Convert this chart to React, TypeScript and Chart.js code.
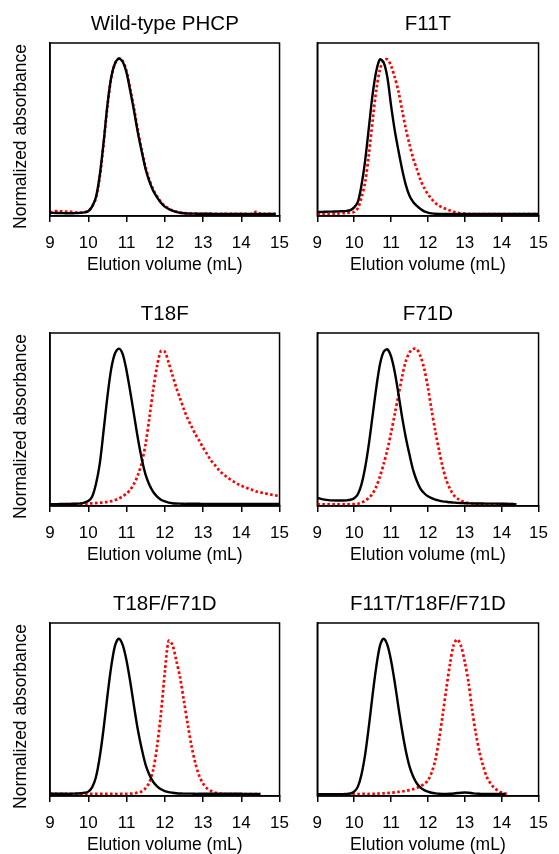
import React, { useEffect, useRef } from 'react';
import { Chart, registerables } from 'chart.js';

Chart.register(...registerables);

const FONT = '"Liberation Sans", Arial, Helvetica, sans-serif';

// Elution volume grid (mL)
const VOLUME = [
  9.0, 9.1, 9.2, 9.3, 9.4, 9.5, 9.6, 9.7, 9.8, 9.9,
  10.0, 10.1, 10.2, 10.3, 10.4, 10.5, 10.6, 10.7, 10.8, 10.9,
  11.0, 11.1, 11.2, 11.3, 11.4, 11.5, 11.6, 11.7, 11.8, 11.9,
  12.0, 12.1, 12.2, 12.3, 12.4, 12.5, 12.6, 12.7, 12.8, 12.9,
  13.0, 13.1, 13.2, 13.3, 13.4, 13.5, 13.6, 13.7, 13.8, 13.9,
  14.0, 14.1, 14.2, 14.3, 14.4, 14.5, 14.6, 14.7, 14.8, 14.9,
  15.0,
];

const X_TICKS = [9, 10, 11, 12, 13, 14, 15];

const PANEL_TITLES = ['Wild-type PHCP', 'F11T', 'T18F', 'F71D', 'T18F/F71D', 'F11T/T18F/F71D'];

// Wild-type PHCP
const WT_BLACK = [
  0.010, 0.010, 0.009, 0.009, 0.008, 0.008, 0.008, 0.009, 0.010, 0.013,
  0.020, 0.050, 0.110, 0.250, 0.460, 0.700, 0.880, 0.970, 1.000, 0.980,
  0.910, 0.790, 0.660, 0.520, 0.400, 0.290, 0.210, 0.150, 0.110, 0.075,
  0.050, 0.035, 0.024, 0.016, 0.011, 0.008, 0.006, 0.005, 0.005, 0.004,
  0.004, 0.004, 0.004, 0.003, 0.003, 0.003, 0.003, 0.003, 0.003, 0.003,
  0.003, 0.003, 0.003, 0.003, 0.003, 0.003, 0.003, 0.003, 0.003, 0.003,
  null,
];
const WT_RED = [
  0.012, 0.020, 0.021, 0.020, 0.019, 0.018, 0.015, 0.012, 0.012, 0.015,
  0.022, 0.050, 0.105, 0.240, 0.450, 0.690, 0.875, 0.970, 1.000, 0.985,
  0.920, 0.800, 0.675, 0.535, 0.410, 0.300, 0.220, 0.160, 0.115, 0.080,
  0.055, 0.038, 0.026, 0.018, 0.012, 0.009, 0.007, 0.006, 0.005, 0.005,
  0.004, 0.004, 0.004, 0.004, 0.003, 0.003, 0.003, 0.003, 0.003, 0.003,
  0.003, 0.003, 0.003, 0.004, 0.018, 0.004, 0.003, 0.003, 0.003, 0.003,
  null,
];

// F11T
const F11T_BLACK = [
  0.015, 0.016, 0.017, 0.018, 0.018, 0.019, 0.020, 0.021, 0.023, 0.028,
  0.045, 0.080, 0.190, 0.350, 0.560, 0.770, 0.920, 0.995, 0.975, 0.880,
  0.700, 0.540, 0.410, 0.290, 0.190, 0.120, 0.080, 0.055, 0.035, 0.020,
  0.012, 0.007, 0.004, 0.003, 0.003, 0.003, 0.003, 0.003, 0.003, 0.003,
  0.003, 0.003, 0.003, 0.003, 0.003, 0.003, 0.003, 0.003, 0.003, 0.003,
  0.003, 0.003, 0.003, 0.003, 0.003, 0.003, 0.003, 0.003, 0.003, 0.003,
  0.003,
];
const F11T_RED = [
  0.000, 0.001, 0.002, 0.003, 0.004, 0.005, 0.006, 0.008, 0.010, 0.013,
  0.016, 0.040, 0.110, 0.210, 0.390, 0.600, 0.800, 0.930, 0.990, 0.995,
  0.955, 0.880, 0.790, 0.670, 0.550, 0.450, 0.360, 0.290, 0.220, 0.170,
  0.130, 0.100, 0.073, 0.056, 0.044, 0.034, 0.025, 0.017, 0.011, 0.007,
  0.005, 0.003, 0.002, 0.002, 0.002, 0.002, 0.002, 0.002, 0.002, 0.002,
  0.002, 0.002, 0.002, 0.002, 0.002, 0.002, 0.002, 0.002, 0.002, 0.002,
  0.002,
];

// T18F
const T18F_BLACK = [
  0.002, 0.002, 0.002, 0.003, 0.003, 0.003, 0.004, 0.005, 0.007, 0.012,
  0.022, 0.050, 0.130, 0.260, 0.470, 0.690, 0.870, 0.970, 1.000, 0.965,
  0.860, 0.720, 0.570, 0.420, 0.290, 0.190, 0.125, 0.080, 0.050, 0.030,
  0.019, 0.012, 0.008, 0.006, 0.005, 0.004, 0.004, 0.004, 0.004, 0.004,
  0.003, 0.003, 0.003, 0.003, 0.003, 0.003, 0.003, 0.003, 0.003, 0.003,
  0.003, 0.003, 0.003, 0.003, 0.003, 0.003, 0.003, 0.003, 0.003, 0.003,
  0.003,
];
const T18F_RED = [
  0.000, 0.000, 0.000, 0.001, 0.001, 0.002, 0.002, 0.003, 0.004, 0.005,
  0.006, 0.007, 0.009, 0.011, 0.013, 0.016, 0.021, 0.028, 0.038, 0.052,
  0.070, 0.095, 0.135, 0.190, 0.270, 0.390, 0.560, 0.740, 0.890, 0.985,
  0.980, 0.910, 0.830, 0.750, 0.680, 0.610, 0.550, 0.500, 0.450, 0.410,
  0.365, 0.325, 0.285, 0.255, 0.225, 0.200, 0.180, 0.163, 0.147, 0.132,
  0.120, 0.110, 0.100, 0.092, 0.083, 0.077, 0.072, 0.067, 0.062, 0.058,
  0.054,
];

// F71D
const F71D_BLACK = [
  0.042, 0.036, 0.031, 0.028, 0.026, 0.025, 0.025, 0.025, 0.026, 0.030,
  0.040, 0.065, 0.130, 0.240, 0.390, 0.570, 0.750, 0.900, 0.980, 0.995,
  0.950, 0.850, 0.710, 0.560, 0.430, 0.320, 0.220, 0.150, 0.100, 0.072,
  0.052, 0.040, 0.031, 0.025, 0.020, 0.017, 0.014, 0.012, 0.010, 0.009,
  0.008, 0.007, 0.007, 0.006, 0.006, 0.006, 0.005, 0.005, 0.005, 0.005,
  0.004, 0.004, 0.003, 0.003, 0.002, null, null, null, null, null,
  null,
];
const F71D_RED = [
  0.000, 0.000, 0.000, 0.000, 0.000, 0.000, 0.000, 0.000, 0.000, 0.001,
  0.002, 0.004, 0.012, 0.024, 0.043, 0.070, 0.115, 0.180, 0.260, 0.350,
  0.460, 0.580, 0.700, 0.820, 0.920, 0.975, 0.998, 0.995, 0.950, 0.870,
  0.750, 0.605, 0.470, 0.350, 0.240, 0.155, 0.100, 0.060, 0.038, 0.024,
  0.014, 0.008, 0.005, 0.003, 0.002, 0.002, 0.002, 0.002, 0.002, 0.002,
  0.002, 0.002, 0.002, 0.002, null, null, null, null, null, null,
  null,
];

// T18F/F71D
const T18F_F71D_BLACK = [
  0.004, 0.004, 0.004, 0.004, 0.004, 0.004, 0.005, 0.006, 0.008, 0.011,
  0.018, 0.045, 0.110, 0.240, 0.420, 0.630, 0.820, 0.955, 1.000, 0.960,
  0.860, 0.720, 0.560, 0.410, 0.290, 0.190, 0.125, 0.080, 0.052, 0.033,
  0.022, 0.015, 0.011, 0.008, 0.006, 0.005, 0.005, 0.005, 0.004, 0.004,
  0.004, 0.004, 0.004, 0.004, 0.004, 0.004, 0.004, 0.004, 0.004, 0.004,
  0.004, 0.003, 0.003, 0.003, 0.003, 0.003, null, null, null, null,
  null,
];
const T18F_F71D_RED = [
  0.005, 0.005, 0.004, 0.004, 0.004, 0.003, 0.003, 0.003, 0.003, 0.003,
  0.003, 0.003, 0.003, 0.003, 0.003, 0.003, 0.003, 0.003, 0.003, 0.004,
  0.004, 0.005, 0.007, 0.012, 0.020, 0.040, 0.080, 0.160, 0.310, 0.520,
  0.780, 0.985, 0.960, 0.860, 0.750, 0.600, 0.450, 0.310, 0.200, 0.120,
  0.070, 0.040, 0.024, 0.013, 0.007, 0.004, 0.002, 0.002, 0.002, 0.002,
  0.002, 0.002, 0.002, 0.002, 0.002, 0.002, null, null, null, null,
  null,
];

// F11T/T18F/F71D
const TRIPLE_BLACK = [
  0.002, 0.002, 0.002, 0.002, 0.002, 0.002, 0.002, 0.002, 0.003, 0.006,
  0.018, 0.050, 0.130, 0.260, 0.440, 0.640, 0.820, 0.955, 1.000, 0.960,
  0.860, 0.720, 0.560, 0.410, 0.280, 0.180, 0.115, 0.070, 0.044, 0.028,
  0.018, 0.011, 0.007, 0.004, 0.003, 0.003, 0.004, 0.006, 0.009, 0.011,
  0.012, 0.011, 0.008, 0.005, 0.004, 0.003, 0.003, 0.003, 0.003, 0.003,
  0.003, 0.003, null, null, null, null, null, null, null, null,
  null,
];
const TRIPLE_RED = [
  0.000, 0.000, 0.000, 0.000, 0.001, 0.001, 0.001, 0.001, 0.002, 0.002,
  0.002, 0.002, 0.003, 0.003, 0.003, 0.004, 0.005, 0.006, 0.007, 0.009,
  0.011, 0.013, 0.016, 0.019, 0.023, 0.028, 0.034, 0.042, 0.052, 0.068,
  0.090, 0.140, 0.220, 0.350, 0.510, 0.680, 0.840, 0.960, 0.995, 0.950,
  0.850, 0.720, 0.540, 0.390, 0.270, 0.180, 0.110, 0.070, 0.042, 0.024,
  0.012, 0.005, 0.002, null, null, null, null, null, null, null,
  null,
];

const BLACK_SERIES = [WT_BLACK, F11T_BLACK, T18F_BLACK, F71D_BLACK, T18F_F71D_BLACK, TRIPLE_BLACK];
const RED_SERIES = [WT_RED, F11T_RED, T18F_RED, F71D_RED, T18F_F71D_RED, TRIPLE_RED];

const boxPlugin = {
  id: 'frameBox',
  afterDraw(chart: any) {
    const { ctx, chartArea } = chart;
    ctx.save();
    ctx.strokeStyle = '#000';
    ctx.lineWidth = 1.5;
    ctx.strokeRect(chartArea.left, chartArea.top, chartArea.right - chartArea.left, chartArea.bottom - chartArea.top);
    ctx.restore();
  },
};

// Panel title centred over the plot area, and rotated y-axis title
const textPlugin = {
  id: 'panelText',
  afterDraw(chart: any, _args: any, opts: any) {
    const { ctx, chartArea } = chart;
    ctx.save();
    ctx.fillStyle = '#000';
    ctx.textAlign = 'center';
    ctx.textBaseline = 'middle';
    if (opts && opts.title) {
      ctx.font = `20.5px ${FONT}`;
      ctx.fillText(opts.title, (chartArea.left + chartArea.right) / 2, chartArea.top - 19);
    }
    if (opts && opts.yTitle) {
      ctx.translate(chartArea.left - 28.5, (chartArea.top + chartArea.bottom) / 2 + 7);
      ctx.rotate(-Math.PI / 2);
      ctx.font = `17.5px ${FONT}`;
      ctx.fillText(opts.yTitle, 0, 0);
    }
    ctx.restore();
  },
};

type PanelProps = {
  index: number;
  left: number;
  top: number;
  width: number;
  yWidth: number;
  padRight: number;
  showYTitle: boolean;
};

function Panel({ index, left, top, width, yWidth, padRight, showYTitle }: PanelProps) {
  const ref = useRef<HTMLCanvasElement>(null);
  useEffect(() => {
    const black = BLACK_SERIES[index];
    const red = RED_SERIES[index];
    const chart = new Chart(ref.current as HTMLCanvasElement, {
      type: 'line',
      data: {
        datasets: [
          {
            label: 'Wild-type',
            data: VOLUME.map((x, i) => ({ x, y: black[i] })) as any,
            borderColor: '#000000',
            borderWidth: 2.4,
            pointRadius: 0,
            tension: 0.3,
            fill: false,
          },
          {
            label: PANEL_TITLES[index],
            data: VOLUME.map((x, i) => ({ x, y: red[i] })) as any,
            borderColor: '#ff0000',
            borderWidth: 2.7,
            borderDash: [2.6, 2.4],
            borderCapStyle: 'butt',
            pointRadius: 0,
            tension: 0.3,
            fill: false,
          },
        ],
      },
      options: {
        animation: false,
        responsive: false,
        maintainAspectRatio: false,
        layout: { padding: { left: 0, right: padRight, top: 43, bottom: 0 } },
        plugins: {
          legend: { display: false },
          tooltip: { enabled: false },
          title: { display: false },
          panelText: {
            title: PANEL_TITLES[index],
            yTitle: showYTitle ? 'Normalized absorbance' : '',
          },
        } as any,
        scales: {
          x: {
            type: 'linear',
            min: 9,
            max: 15,
            afterBuildTicks: (scale: any) => {
              scale.ticks = X_TICKS.map((v) => ({ value: v }));
            },
            ticks: {
              color: '#000',
              padding: 11,
              maxRotation: 0,
              autoSkip: false,
              font: { family: FONT, size: 17, lineHeight: 1.2 },
            },
            grid: {
              display: true,
              drawOnChartArea: false,
              drawTicks: true,
              tickLength: 6,
              color: '#000',
              lineWidth: 1.5,
            },
            border: { display: true, color: '#000', width: 1.5 },
            title: {
              display: true,
              text: 'Elution volume (mL)',
              color: '#000',
              font: { family: FONT, size: 17.5, lineHeight: 1.2 },
              padding: { top: 0, bottom: 14 },
            },
            afterFit: (scale: any) => {
              scale.height = 74;
            },
          },
          y: {
            type: 'linear',
            min: -0.01,
            max: 1.1,
            ticks: { display: false },
            grid: { display: false },
            border: { display: true, color: '#000', width: 1.5 },
            afterFit: (scale: any) => {
              scale.width = yWidth;
            },
          },
        } as any,
      },
      plugins: [boxPlugin, textPlugin],
    });
    return () => chart.destroy();
  }, [index, yWidth, padRight, showYTitle]);

  return (
    <canvas
      ref={ref}
      width={width}
      height={290}
      style={{ position: 'absolute', left, top, width, height: 290 }}
    />
  );
}

export default function App() {
  const panels = PANEL_TITLES.map((_, i) => {
    const row = Math.floor(i / 2);
    const col = i % 2;
    return col === 0
      ? { index: i, left: 0, top: row * 290, width: 300, yWidth: 50, padRight: 18.3, showYTitle: true }
      : { index: i, left: 280, top: row * 290, width: 279, yWidth: 37.3, padRight: 10.7, showYTitle: false };
  });
  return (
    <div
      style={{
        position: 'absolute',
        left: 0,
        top: 0,
        width: 559,
        height: 854,
        overflow: 'hidden',
        background: '#ffffff',
      }}
    >
      {panels.map((p) => (
        <Panel key={p.index} {...p} />
      ))}
    </div>
  );
}
